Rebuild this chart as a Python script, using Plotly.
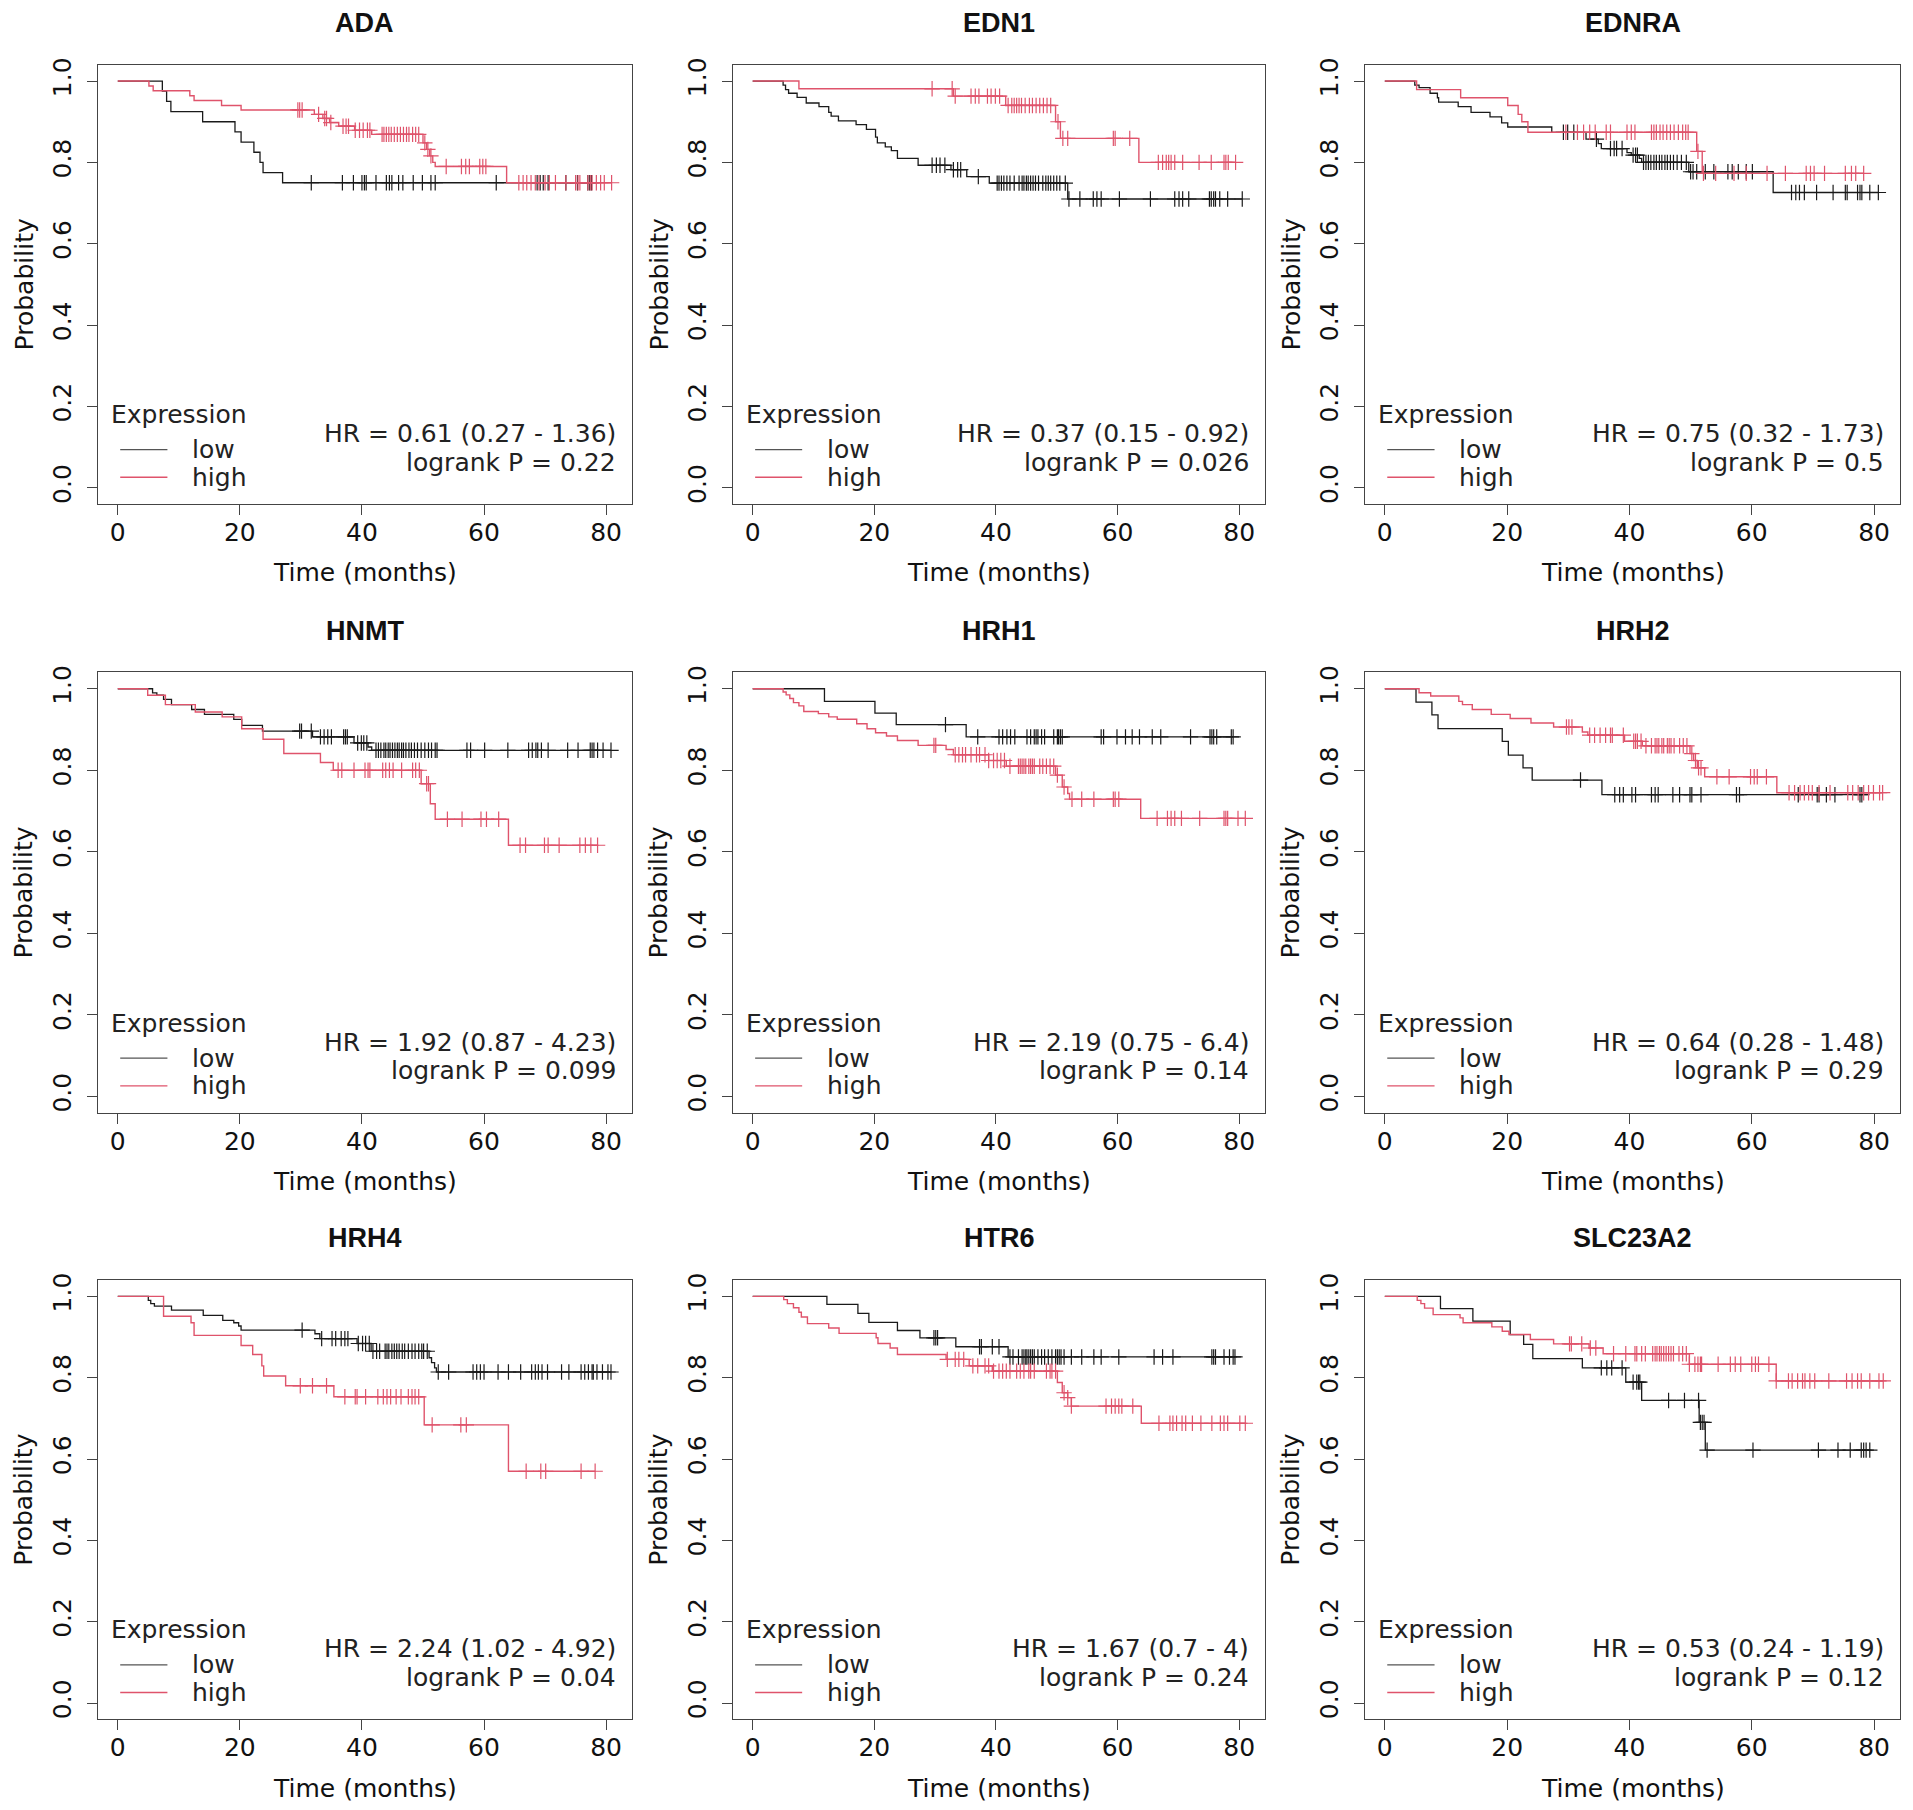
import plotly.graph_objects as go

# ---------------- data (months / survival probability) ----------------
genes = ["ADA", "EDN1", "EDNRA", "HNMT", "HRH1", "HRH2", "HRH4", "HTR6", "SLC23A2"]
hr_labels = ["HR = 0.61 (0.27 - 1.36)", "HR = 0.37 (0.15 - 0.92)", "HR = 0.75 (0.32 - 1.73)",
             "HR = 1.92 (0.87 - 4.23)", "HR = 2.19 (0.75 - 6.4)", "HR = 0.64 (0.28 - 1.48)",
             "HR = 2.24 (1.02 - 4.92)", "HR = 1.67 (0.7 - 4)", "HR = 0.53 (0.24 - 1.19)"]
p_labels = ["logrank P = 0.22", "logrank P = 0.026", "logrank P = 0.5",
            "logrank P = 0.099", "logrank P = 0.14", "logrank P = 0.29",
            "logrank P = 0.04", "logrank P = 0.24", "logrank P = 0.12"]
x_ticks = [0, 20, 40, 60, 80]
y_ticks = [0.0, 0.2, 0.4, 0.6, 0.8, 1.0]
y_tick_text = ["0.0", "0.2", "0.4", "0.6", "0.8", "1.0"]

# ADA
ada_low_time = [7.3, 8.0, 8.7, 13.9, 19.2, 20.2, 22.3, 23.3, 23.8, 27.0]
ada_low_surv = [0.975, 0.95, 0.925, 0.90, 0.875, 0.85, 0.825, 0.80, 0.775, 0.75]
ada_low_cens = [31.7, 36.8, 38.6, 40.0, 40.4, 40.7, 42.3, 44.0, 44.5, 44.9, 46.0, 46.7, 48.4, 49.9,
                51.3, 52.0, 62.0, 68.7, 69.2, 69.7, 70.5, 73.4, 75.3, 77.0, 77.3, 77.6]
ada_high_time = [5.1, 5.8, 11.8, 12.5, 17.0, 20.2, 32.2, 33.6, 34.7, 36.2, 38.8, 41.6, 50.0, 50.6,
                 51.1, 51.6, 52.0, 63.7]
ada_high_surv = [0.988, 0.976, 0.964, 0.952, 0.94, 0.929, 0.918, 0.908, 0.898, 0.889, 0.879, 0.869,
                 0.848, 0.832, 0.816, 0.80, 0.79, 0.75]
ada_high_cens = [29.5, 29.8, 30.2, 32.9, 33.9, 34.2, 34.9, 36.9, 37.4, 37.8, 38.9, 39.6, 40.2, 40.9,
                 41.3, 43.3, 43.6, 44.0, 44.4, 44.8, 45.3, 45.8, 46.3, 46.8, 47.3, 47.7, 48.3, 48.8,
                 49.3, 50.3, 50.8, 51.3, 53.8, 56.3, 57.0, 57.6, 59.3, 59.8, 60.3, 65.7, 66.4, 67.0,
                 67.7, 68.4, 69.0, 70.0, 70.7, 71.7, 73.4, 75.0, 75.4, 75.7, 77.0, 77.4, 77.7, 78.4,
                 79.1, 79.7, 80.9]

# EDN1
edn1_low_time = [5.0, 5.4, 5.9, 7.3, 8.8, 10.9, 12.5, 12.9, 14.1, 17.0, 18.7, 20.2, 20.5, 21.8,
                 22.8, 23.8, 27.2, 32.6, 35.2, 38.9, 51.8]
edn1_low_surv = [0.99, 0.979, 0.97, 0.96, 0.946, 0.937, 0.923, 0.914, 0.902, 0.893, 0.881, 0.862,
                 0.848, 0.838, 0.829, 0.81, 0.793, 0.782, 0.765, 0.749, 0.71]
edn1_low_cens = [29.5, 30.2, 30.8, 31.6, 33.0, 33.7, 34.2, 37.1, 40.2, 40.5, 40.9, 41.3, 41.8, 42.3,
                 43.0, 43.8, 44.3, 44.6, 45.0, 45.3, 45.7, 46.1, 46.5, 47.0, 47.7, 48.2, 48.6, 49.0,
                 49.5, 50.0, 50.5, 51.4, 52.0, 53.8, 56.0, 56.6, 57.3, 60.3, 65.4, 69.4, 70.1, 70.7,
                 71.7, 75.1, 75.4, 75.8, 76.1, 76.8, 78.1, 80.5]
edn1_high_time = [7.6, 33.0, 41.6, 49.8, 50.6, 63.5]
edn1_high_surv = [0.981, 0.963, 0.94, 0.90, 0.859, 0.80]
edn1_high_cens = [29.5, 32.8, 33.3, 35.9, 36.6, 37.2, 38.6, 39.2, 39.9, 40.6, 42.0, 42.6, 43.0, 43.4,
                  43.8, 44.2, 44.8, 45.5, 46.0, 46.6, 47.2, 47.8, 48.4, 49.0, 50.2, 51.0, 51.8, 59.3,
                  59.6, 62.0, 66.7, 67.4, 68.0, 68.4, 68.8, 69.4, 70.7, 73.4, 75.4, 77.5, 77.8, 78.2,
                  79.4]

# EDNRA
ednra_low_time = [4.9, 5.6, 7.4, 8.6, 8.8, 12.0, 14.1, 17.2, 19.1, 20.1, 27.3, 32.9, 34.9, 35.4,
                  39.6, 40.3, 41.6, 42.0, 49.7, 63.5]
ednra_low_surv = [0.99, 0.984, 0.97, 0.959, 0.948, 0.937, 0.923, 0.912, 0.897, 0.887, 0.874, 0.857,
                  0.846, 0.834, 0.824, 0.818, 0.81, 0.80, 0.777, 0.726]
ednra_low_cens = [29.2, 29.9, 30.9, 34.6, 36.9, 37.5, 37.9, 38.8, 40.6, 41.0, 41.3, 42.3, 42.7, 43.1,
                  43.5, 44.0, 44.4, 44.9, 45.3, 45.8, 46.2, 46.7, 47.2, 47.8, 48.5, 49.3, 50.0, 50.4,
                  51.0, 52.4, 53.8, 56.1, 56.8, 57.8, 59.1, 60.1, 66.5, 67.2, 67.8, 68.6, 70.6, 73.3,
                  75.3, 75.6, 77.3, 77.7, 78.0, 79.3, 80.7]
ednra_high_time = [5.2, 12.4, 20.1, 21.8, 22.4, 23.4, 51.0, 51.9]
ednra_high_surv = [0.979, 0.959, 0.94, 0.918, 0.90, 0.874, 0.827, 0.773]
ednra_high_cens = [29.6, 31.5, 32.5, 33.5, 34.4, 36.2, 36.9, 39.6, 40.3, 40.9, 43.6, 44.0, 44.4, 45.0,
                   45.5, 46.1, 46.7, 47.3, 48.0, 48.7, 49.2, 49.6, 51.2, 52.1, 54.1, 57.1, 59.1, 62.5,
                   65.5, 68.9, 69.6, 70.2, 71.9, 75.3, 76.3, 77.0, 78.3]

# HNMT
hnmt_low_time = [5.7, 6.4, 7.5, 8.8, 12.1, 14.2, 19.0, 20.3, 23.7, 31.9, 38.7, 41.0, 41.6]
hnmt_low_surv = [0.99, 0.984, 0.974, 0.961, 0.949, 0.937, 0.925, 0.91, 0.896, 0.882, 0.867, 0.857,
                 0.849]
hnmt_low_cens = [29.8, 30.1, 31.7, 33.2, 33.8, 34.4, 35.0, 37.0, 37.3, 37.6, 39.3, 39.9, 40.3, 40.8,
                 42.3, 42.7, 43.1, 43.6, 43.9, 44.3, 44.6, 45.0, 45.4, 45.8, 46.1, 46.5, 46.8, 47.2,
                 47.7, 48.1, 48.6, 49.1, 49.7, 50.3, 50.9, 51.4, 52.0, 52.3, 57.2, 57.8, 60.1, 63.9,
                 67.3, 67.9, 68.5, 68.8, 69.4, 70.5, 73.7, 75.4, 77.4, 77.7, 78.0, 78.6, 79.5, 80.8]
hnmt_high_time = [4.9, 7.8, 12.7, 17.1, 20.3, 23.8, 27.2, 33.2, 35.3, 49.7, 51.2, 52.0, 64.0]
hnmt_high_surv = [0.984, 0.961, 0.943, 0.931, 0.902, 0.876, 0.841, 0.819, 0.80, 0.767, 0.718, 0.68,
                  0.616]
hnmt_high_cens = [36.1, 36.7, 38.7, 40.5, 41.0, 41.3, 43.4, 43.9, 44.5, 45.1, 46.5, 48.3, 48.8, 49.4,
                  50.6, 50.9, 54.0, 56.4, 59.5, 60.4, 62.4, 65.9, 66.8, 69.9, 70.5, 72.3, 75.7, 76.6,
                  77.5, 78.6]

# HRH1
hrh1_low_time = [11.8, 20.1, 23.6, 35.1]
hrh1_low_surv = [0.969, 0.94, 0.912, 0.882]
hrh1_low_cens = [31.7, 37.0, 40.5, 41.1, 41.8, 42.4, 43.1, 45.1, 45.7, 46.3, 46.6, 46.9, 47.5, 48.0,
                 49.5, 50.1, 50.3, 50.6, 50.9, 57.3, 57.7, 59.9, 61.3, 62.4, 63.6, 65.7, 67.1, 72.0,
                 75.2, 75.5, 75.8, 76.3, 78.7, 79.0]
hrh1_high_time = [5.0, 5.5, 6.1, 6.7, 7.6, 8.4, 10.8, 12.5, 13.9, 17.1, 18.8, 20.2, 22.0, 23.8, 27.2,
                  31.8, 33.0, 38.8, 41.7, 49.8, 50.9, 51.8, 52.1, 63.8]
hrh1_high_surv = [0.992, 0.985, 0.976, 0.966, 0.958, 0.944, 0.939, 0.931, 0.925, 0.914, 0.902, 0.892,
                  0.884, 0.873, 0.861, 0.851, 0.838, 0.824, 0.81, 0.788, 0.759, 0.743, 0.729, 0.682]
hrh1_high_cens = [29.8, 30.1, 33.3, 33.9, 34.5, 35.0, 35.9, 36.8, 37.3, 38.2, 38.8, 39.6, 40.2, 40.8,
                  41.4, 42.3, 43.7, 44.0, 44.3, 44.6, 44.9, 45.4, 45.7, 46.0, 46.3, 47.2, 47.7, 48.3,
                  48.9, 49.5, 50.1, 51.2, 52.5, 54.1, 56.1, 59.3, 59.6, 60.2, 66.5, 68.2, 68.8, 69.4,
                  70.5, 73.5, 77.5, 77.8, 78.1, 79.8, 81.0]

# HRH2
hrh2_low_time = [5.1, 7.7, 8.7, 19.2, 20.2, 22.6, 24.1, 35.5]
hrh2_low_surv = [0.967, 0.936, 0.902, 0.871, 0.837, 0.806, 0.776, 0.74]
hrh2_low_cens = [32.0, 37.6, 38.4, 39.0, 40.4, 41.0, 43.6, 44.2, 44.7, 47.1, 48.2, 49.9, 50.2, 51.7,
                 57.5, 58.0, 67.6, 70.7, 71.0, 72.2, 73.6, 77.7, 78.0]
hrh2_high_time = [5.6, 7.5, 12.1, 12.7, 14.3, 17.4, 20.5, 23.9, 27.6, 32.3, 33.2, 39.2, 42.1, 49.9,
                  50.5, 51.1, 52.3, 64.1]
hrh2_high_surv = [0.99, 0.982, 0.969, 0.961, 0.949, 0.937, 0.927, 0.916, 0.906, 0.894, 0.886, 0.871,
                  0.86, 0.841, 0.824, 0.806, 0.784, 0.745]
hrh2_high_cens = [29.7, 30.1, 30.6, 33.5, 34.3, 35.2, 36.1, 36.9, 37.2, 39.0, 40.7, 41.0, 41.3, 41.9,
                  42.7, 43.6, 44.2, 44.5, 44.8, 45.3, 45.6, 46.2, 46.5, 46.8, 47.3, 48.2, 48.8, 49.4,
                  50.2, 50.8, 51.3, 51.7, 54.3, 56.3, 59.8, 60.4, 60.9, 62.4, 66.1, 67.0, 67.9, 68.6,
                  69.3, 69.9, 71.0, 72.8, 75.7, 76.5, 77.4, 78.3, 79.1, 79.9, 80.9, 81.4]

# HRH4
hrh4_low_time = [5.0, 5.4, 6.0, 8.8, 14.0, 17.2, 19.0, 19.8, 20.2, 32.3, 33.1, 39.2, 41.5, 51.0,
                 51.4, 51.9, 52.2]
hrh4_low_surv = [0.99, 0.982, 0.976, 0.966, 0.953, 0.941, 0.935, 0.927, 0.917, 0.908, 0.896, 0.884,
                 0.865, 0.849, 0.837, 0.824, 0.814]
hrh4_low_cens = [30.2, 33.4, 35.1, 35.7, 36.6, 37.2, 37.7, 39.4, 40.1, 40.6, 41.2, 41.8, 42.4, 42.9,
                 43.8, 44.1, 44.4, 44.9, 45.3, 45.7, 46.1, 46.6, 47.0, 47.6, 48.2, 48.7, 49.3, 49.8,
                 50.1, 50.7, 52.5, 54.2, 58.2, 58.8, 59.4, 60.0, 62.3, 64.0, 66.0, 67.8, 68.4, 68.9,
                 69.5, 70.4, 72.7, 73.9, 75.9, 76.5, 77.1, 77.7, 77.9, 78.5, 79.4, 80.3, 80.8]
hrh4_high_time = [7.5, 12.0, 12.5, 20.2, 22.1, 23.6, 23.9, 27.5, 35.4, 50.2, 64.0]
hrh4_high_surv = [0.951, 0.935, 0.904, 0.879, 0.857, 0.829, 0.804, 0.78, 0.753, 0.684, 0.57]
hrh4_high_cens = [29.9, 31.9, 34.2, 37.2, 38.9, 39.2, 40.6, 42.6, 43.5, 44.1, 44.7, 45.6, 46.4, 47.6,
                  48.2, 48.7, 49.3, 51.5, 56.2, 57.1, 66.9, 69.3, 70.1, 75.9, 78.2]

# HTR6
htr6_low_time = [12.2, 17.3, 19.1, 23.8, 27.5, 33.4, 42.0]
htr6_low_surv = [0.98, 0.958, 0.936, 0.916, 0.898, 0.876, 0.851]
htr6_low_cens = [29.8, 30.1, 30.4, 37.3, 37.6, 39.4, 40.5, 42.3, 42.8, 43.7, 44.3, 44.6, 44.9, 45.1,
                 45.4, 45.7, 46.0, 46.3, 46.9, 47.5, 48.0, 48.6, 49.2, 49.8, 50.1, 50.4, 50.7, 51.2,
                 52.4, 54.1, 56.1, 57.3, 60.2, 66.0, 67.4, 69.1, 75.5, 75.8, 76.1, 77.5, 78.4, 79.0,
                 79.3]
htr6_high_time = [5.1, 5.7, 6.7, 7.6, 8.0, 9.0, 12.5, 14.2, 20.3, 20.6, 22.6, 23.8, 31.8, 35.6, 39.4,
                  50.1, 50.9, 51.8, 52.4, 63.9]
htr6_high_surv = [0.992, 0.982, 0.972, 0.961, 0.949, 0.933, 0.922, 0.909, 0.898, 0.884, 0.873, 0.857,
                  0.845, 0.829, 0.816, 0.788, 0.763, 0.751, 0.73, 0.688]
htr6_high_cens = [32.0, 33.3, 33.9, 34.7, 36.2, 37.0, 38.2, 38.8, 39.6, 40.5, 41.1, 41.7, 42.3, 43.4,
                  44.0, 44.6, 45.4, 45.7, 46.3, 48.3, 48.9, 49.2, 49.8, 51.2, 51.8, 52.4, 58.1, 59.0,
                  59.6, 60.2, 60.7, 62.5, 66.8, 68.6, 69.1, 69.7, 70.6, 71.2, 72.3, 73.7, 75.5, 76.9,
                  77.5, 78.1, 80.1, 81.0]

# SLC23A2
slc_low_time = [9.1, 14.4, 20.5, 22.7, 24.2, 32.3, 39.4, 42.0, 51.4, 52.4]
slc_low_surv = [0.97, 0.939, 0.906, 0.882, 0.847, 0.824, 0.789, 0.744, 0.69, 0.622]
slc_low_cens = [35.4, 36.3, 37.1, 38.8, 40.6, 41.2, 41.5, 41.7, 46.4, 49.0, 51.3, 51.6, 51.9, 52.2,
                52.7, 60.2, 70.9, 74.1, 76.1, 77.9, 78.3, 78.7, 79.3]
slc_high_time = [5.3, 5.9, 6.5, 7.9, 12.3, 12.8, 17.5, 19.2, 20.3, 23.8, 27.6, 33.4, 35.7, 49.8, 64.0]
slc_high_surv = [0.99, 0.982, 0.971, 0.955, 0.947, 0.935, 0.925, 0.914, 0.906, 0.894, 0.883, 0.873,
                 0.859, 0.833, 0.792]
slc_high_cens = [30.2, 30.5, 32.2, 33.6, 34.5, 37.4, 39.4, 40.9, 41.2, 42.0, 42.6, 43.8, 44.2, 44.5,
                 44.9, 45.2, 45.6, 46.0, 46.4, 46.8, 47.2, 48.1, 48.7, 49.3, 49.8, 50.7, 51.2, 51.6,
                 51.8, 54.5, 56.5, 57.3, 58.2, 60.0, 60.6, 61.1, 62.8, 64.0, 66.0, 66.6, 67.5, 68.3,
                 68.7, 69.5, 70.3, 72.6, 75.5, 76.4, 77.3, 77.9, 79.3, 80.8, 81.5]

panels = [
    (ada_low_time, ada_low_surv, ada_low_cens, ada_high_time, ada_high_surv, ada_high_cens),
    (edn1_low_time, edn1_low_surv, edn1_low_cens, edn1_high_time, edn1_high_surv, edn1_high_cens),
    (ednra_low_time, ednra_low_surv, ednra_low_cens, ednra_high_time, ednra_high_surv, ednra_high_cens),
    (hnmt_low_time, hnmt_low_surv, hnmt_low_cens, hnmt_high_time, hnmt_high_surv, hnmt_high_cens),
    (hrh1_low_time, hrh1_low_surv, hrh1_low_cens, hrh1_high_time, hrh1_high_surv, hrh1_high_cens),
    (hrh2_low_time, hrh2_low_surv, hrh2_low_cens, hrh2_high_time, hrh2_high_surv, hrh2_high_cens),
    (hrh4_low_time, hrh4_low_surv, hrh4_low_cens, hrh4_high_time, hrh4_high_surv, hrh4_high_cens),
    (htr6_low_time, htr6_low_surv, htr6_low_cens, htr6_high_time, htr6_high_surv, htr6_high_cens),
    (slc_low_time, slc_low_surv, slc_low_cens, slc_high_time, slc_high_surv, slc_high_cens),
]

# ---------------- styling / layout ----------------
W, H = 1913, 1810
COL_X = [(98, 632), (733, 1265), (1365, 1900)]
ROW_Y = [(58, 499), (668, 1110), (1278, 1719)]
LOW_COLOR = "#1a1a1a"
HIGH_COLOR = "#DF536B"
AXIS_COLOR = "#444444"
FONT = "DejaVu Sans"
TXT = 25


def step_xy(times, surv, cens):
    end = max(max(cens), times[-1])
    return [0] + list(times) + [end], [1.0] + list(surv) + [surv[-1]]


def surv_at(times, surv, t):
    s = 1.0
    for ti, si in zip(times, surv):
        if ti <= t:
            s = si
    return s


fig = go.Figure()
annotations = []
shapes = []
layout_axes = {}

for i, (gene, hr, pv, data) in enumerate(zip(genes, hr_labels, p_labels, panels)):
    r, c = divmod(i, 3)
    n = i + 1
    xs = "" if n == 1 else str(n)
    xa, ya = "x" + xs, "y" + xs
    lt, ls, lc, ht, hs, hc = data

    for times, surv, cens, color, w in [(lt, ls, lc, LOW_COLOR, 1.3), (ht, hs, hc, HIGH_COLOR, 1.4)]:
        sx, sy = step_xy(times, surv, cens)
        fig.add_trace(go.Scatter(x=sx, y=sy, mode="lines", line=dict(color=color, width=w, shape="hv"),
                                 xaxis=xa, yaxis=ya, showlegend=False, hoverinfo="skip"))
        fig.add_trace(go.Scatter(x=cens, y=[surv_at(times, surv, t) for t in cens], mode="markers",
                                 marker=dict(symbol="cross-thin", size=11, color=color,
                                             line=dict(color=color, width=1.2)),
                                 xaxis=xa, yaxis=ya, showlegend=False, hoverinfo="skip"))

    x0, x1 = COL_X[c]
    y0, y1 = ROW_Y[r]
    bw, bh = x1 - x0, y1 - y0
    layout_axes["xaxis" + xs] = dict(
        domain=[x0 / W, x1 / W], anchor=ya, range=[-3.24, 84.24], tickvals=x_ticks,
        ticks="outside", ticklen=10, tickcolor=AXIS_COLOR, tickwidth=1,
        showline=True, mirror=True, linecolor=AXIS_COLOR, linewidth=1.2,
        showgrid=False, zeroline=False, ticklabelstandoff=-4,
        tickfont=dict(family=FONT, size=TXT, color="#111"))
    layout_axes["yaxis" + xs] = dict(
        domain=[1 - y1 / H, 1 - y0 / H], anchor=xa, range=[-0.04, 1.04], tickvals=y_ticks,
        ticktext=y_tick_text, tickangle=-90, ticks="outside", ticklen=10, tickcolor=AXIS_COLOR,
        tickwidth=1, showline=True, mirror=True, linecolor=AXIS_COLOR, linewidth=1.2,
        showgrid=False, zeroline=False, ticklabelstandoff=6,
        tickfont=dict(family=FONT, size=TXT, color="#111"))

    xd, yd = xa + " domain", ya + " domain"
    # panel title
    annotations.append(dict(text="<b>%s</b>" % gene, xref=xd, yref=yd, x=0.5, y=1 + 42 / bh,
                            xanchor="center", yanchor="middle", showarrow=False,
                            font=dict(family="Liberation Sans", size=27, color="#111")))
    # axis titles
    annotations.append(dict(text="Time (months)", xref=xd, yref=yd, x=0.5, y=-69 / bh,
                            xanchor="center", yanchor="middle", showarrow=False,
                            font=dict(family=FONT, size=TXT, color="#111")))
    annotations.append(dict(text="Probability", xref=xd, yref=yd, x=-74 / bw, y=0.5, textangle=-90,
                            xanchor="center", yanchor="middle", showarrow=False,
                            font=dict(family=FONT, size=TXT, color="#111")))
    # legend
    annotations.append(dict(text="Expression", xref=xd, yref=ya, x=0.021, y=0.18, xanchor="left",
                            yanchor="middle", showarrow=False,
                            font=dict(family=FONT, size=TXT, color="#222")))
    for lab, yy, col in [("low", 0.094, "#555555"), ("high", 0.026, HIGH_COLOR)]:
        annotations.append(dict(text=lab, xref=xd, yref=ya, x=0.172, y=yy, xanchor="left",
                                yanchor="middle", showarrow=False,
                                font=dict(family=FONT, size=TXT, color="#222")))
        shapes.append(dict(type="line", xref=xd, yref=ya, x0=0.0416, x1=0.13, y0=yy, y1=yy,
                           line=dict(color=col, width=1.3)))
    # statistics
    annotations.append(dict(text=hr, xref=xd, yref=ya, x=0.973, y=0.133, xanchor="right",
                            yanchor="middle", showarrow=False,
                            font=dict(family=FONT, size=TXT, color="#222")))
    annotations.append(dict(text=pv, xref=xd, yref=ya, x=0.973, y=0.063, xanchor="right",
                            yanchor="middle", showarrow=False,
                            font=dict(family=FONT, size=TXT, color="#222")))

fig.update_layout(width=W, height=H, margin=dict(l=0, r=0, t=0, b=0), autosize=False,
                  paper_bgcolor="white", plot_bgcolor="white", showlegend=False,
                  annotations=annotations, shapes=shapes, font=dict(family=FONT), **layout_axes)

fig.write_html("out.html", include_plotlyjs=True, config={"displayModeBar": False},
               post_script="document.body.style.margin='0';document.body.style.overflow='hidden';")
